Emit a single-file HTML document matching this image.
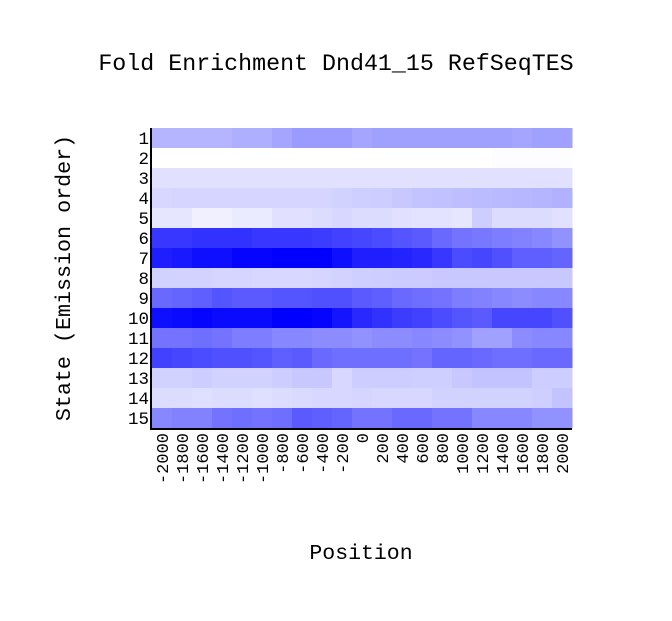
<!DOCTYPE html>
<html><head><meta charset="utf-8"><style>
body{margin:0;background:#fff}
svg text{font-family:"Liberation Mono","DejaVu Sans Mono",monospace;fill:#000}
</style></head><body>
<svg id="chart" width="672" height="616" viewBox="0 0 672 616">
<text x="336" y="70" font-size="23.3" text-anchor="middle">Fold Enrichment Dnd41_15 RefSeqTES</text>
<text transform="translate(70,278) rotate(-90)" font-size="21.7" text-anchor="middle">State (Emission order)</text>
<text x="361" y="559" font-size="21.5" text-anchor="middle">Position</text>
<g id="cells"></g><g id="ylabels"></g><g id="xlabels"></g>
<line x1="151" y1="128" x2="151" y2="429" stroke="#000" stroke-width="2"/>
<line x1="150" y1="429" x2="572" y2="429" stroke="#000" stroke-width="2"/>
</svg>
<script>
const positions=[-2000,-1800,-1600,-1400,-1200,-1000,-800,-600,-400,-200,0,200,400,600,800,1000,1200,1400,1600,1800,2000];
const states=["1","2","3","4","5","6","7","8","9","10","11","12","13","14","15"];
const row1=[75,75,75,75,80,80,90,100,100,100,90,95,95,95,95,95,95,95,90,95,95];
const row2=[0,0,0,0,0,0,0,0,0,0,0,0,0,0,0,0,0,2,2,2,2];
const row3=[30,30,30,30,30,30,30,30,30,30,30,30,30,30,30,30,30,30,30,30,30];
const row4=[40,42,42,42,42,42,42,42,42,45,48,50,55,60,62,65,68,70,72,75,78];
const row5=[25,25,15,15,20,20,30,30,35,40,35,35,30,28,28,25,50,35,35,35,30];
const row6=[200,200,205,205,205,200,200,200,195,190,185,180,170,165,150,140,135,130,125,120,110];
const row7=[225,230,240,240,250,250,255,255,255,240,225,225,220,215,200,180,185,175,160,160,155];
const row8=[45,45,45,42,42,40,40,40,42,45,48,50,52,52,55,55,55,55,55,55,55];
const row9=[150,155,160,170,165,165,170,170,175,175,165,160,150,145,140,130,125,120,115,120,120];
const row10=[240,245,250,245,245,245,255,255,250,235,215,205,195,190,180,170,165,185,185,185,175];
const row11=[140,140,145,140,130,130,120,120,115,115,110,115,115,120,115,110,95,95,115,120,120];
const row12=[190,185,180,175,175,170,160,165,150,145,145,145,145,140,155,155,150,145,145,150,150];
const row13=[45,45,50,45,45,45,50,55,55,40,50,50,50,48,48,55,60,60,60,50,50];
const row14=[35,35,32,35,35,32,35,37,40,40,42,40,40,40,45,45,45,45,45,48,60];
const row15=[120,125,125,140,145,140,145,165,160,155,140,140,150,150,140,140,120,120,120,110,110];
const values=[row1,row2,row3,row4,row5,row6,row7,row8,row9,row10,row11,row12,row13,row14,row15];
const NS="http://www.w3.org/2000/svg";
const X0=152,Y0=128,CW=420/positions.length,RH=300/states.length;
const xPos=i=>X0+i*CW, yPos=j=>Y0+j*RH;
const color=v=>{const c=Math.round(255-v);return `rgb(${c},${c},255)`;};
const cells=document.getElementById('cells');
values.forEach((row,j)=>row.forEach((v,i)=>{
 const r=document.createElementNS(NS,'rect');
 
 
 r.setAttribute('x',xPos(i));r.setAttribute('y',yPos(j));
 r.setAttribute('width',CW+0.5);r.setAttribute('height',RH+0.5);
 r.setAttribute('fill',color(v));cells.appendChild(r);
}));
const yl=document.getElementById('ylabels');
states.forEach((s,j)=>{
 const t=document.createElementNS(NS,'text');
 
 
 t.setAttribute('x',149);t.setAttribute('y',yPos(j)+RH/2+6);
 t.setAttribute('font-size','17.5');t.setAttribute('text-anchor','end');
 t.textContent=s;yl.appendChild(t);
});
const xl=document.getElementById('xlabels');
positions.forEach((p,i)=>{
 const t=document.createElementNS(NS,'text');
 
 
 const cx=xPos(i)+CW/2+6;
 t.setAttribute('transform',`translate(${cx},433) rotate(-90)`);
 t.setAttribute('font-size','17');t.setAttribute('text-anchor','end');
 t.textContent=p;xl.appendChild(t);
});
</script>
</body></html>
